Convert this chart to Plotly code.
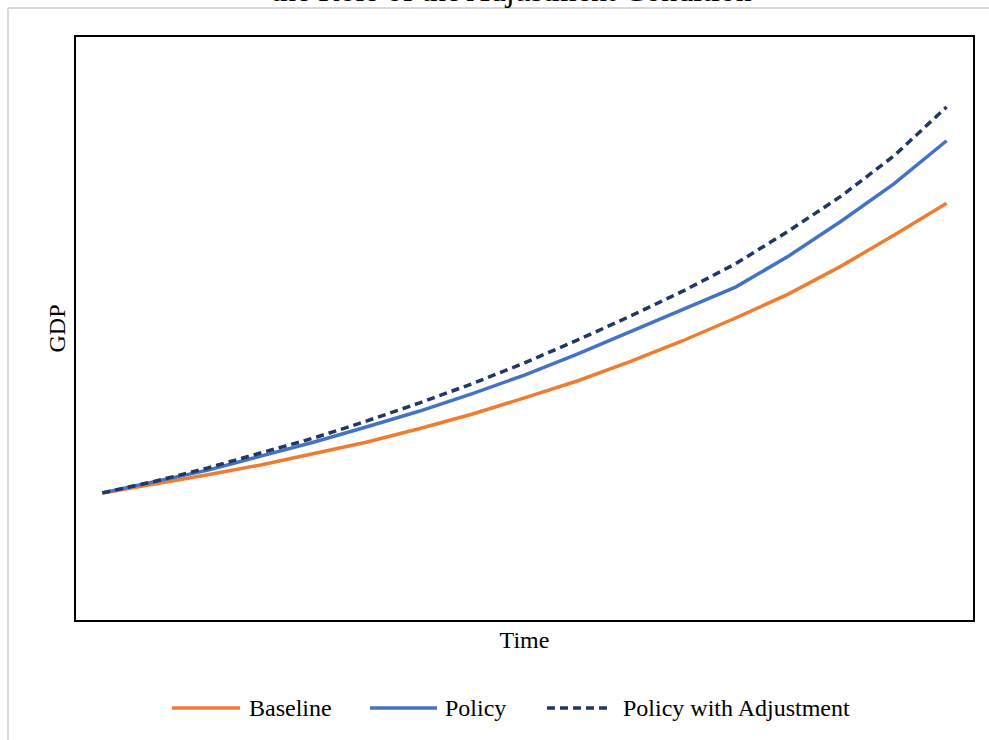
import plotly.graph_objects as go

# Time periods (category positions along the x axis)
periods = list(range(17))

# GDP paths under the three scenarios
baseline = [21.8, 23.3, 24.9, 26.6, 28.5, 30.5, 32.8, 35.3, 38.1, 41.0,
            44.3, 47.9, 51.8, 55.9, 60.7, 66.0, 71.5]
policy = [21.8, 23.7, 25.7, 28.1, 30.5, 33.1, 35.8, 38.8, 42.0, 45.6,
          49.4, 53.2, 57.1, 62.4, 68.4, 74.8, 82.2]
policy_adj = [21.8, 23.8, 26.1, 28.6, 31.2, 34.1, 37.2, 40.5, 44.1, 48.0,
              52.1, 56.4, 61.1, 66.7, 72.7, 79.6, 88.0]

series_names = ["Baseline", "Policy", "Policy with Adjustment"]
series_colors = ["#ED7D31", "#4472C4", "#1F3864"]
series_dash = ["solid", "solid", "8px,5px"]

FONT = "Liberation Serif, Times New Roman, serif"
W, H = 989, 740
L, R, T, B = 76, 16, 37, 120
PW, PH = W - L - R, H - T - B


def px_x(p):
    """Pixel column -> paper x."""
    return (p - L) / PW


def px_y(p):
    """Pixel row -> paper y."""
    return (H - B - p) / PH


fig = go.Figure()
for name, vals, col, dash in zip(series_names, [baseline, policy, policy_adj],
                                 series_colors, series_dash):
    fig.add_trace(go.Scatter(x=periods, y=vals, mode="lines", name=name,
                             line=dict(color=col, width=3.5, dash=dash),
                             showlegend=False))

fig.update_layout(
    width=W, height=H,
    margin=dict(l=L, r=R, t=T, b=B),
    paper_bgcolor="white", plot_bgcolor="white",
    font=dict(family=FONT, size=24, color="black"),
    xaxis=dict(range=[-0.5, 16.5], showticklabels=False, ticks="",
               showgrid=False, zeroline=False, showline=True, mirror=True,
               linecolor="black", linewidth=2,
               title=dict(text="Time", standoff=10, font=dict(size=24))),
    yaxis=dict(range=[0, 100], showticklabels=False, ticks="",
               showgrid=False, zeroline=False, showline=True, mirror=True,
               linecolor="black", linewidth=2,
               title=dict(text="GDP", standoff=2, font=dict(size=24))),
)

# Legend row: long line samples followed by labels
legend_y = px_y(708)
legend_samples = [(172, 240, 247), (370, 437, 443), (547, 612, 621)]
for (x0, x1, xt), name, col, dash in zip(legend_samples, series_names,
                                          series_colors, series_dash):
    fig.add_shape(type="line", xref="paper", yref="paper",
                  x0=px_x(x0), x1=px_x(x1), y0=legend_y, y1=legend_y,
                  line=dict(color=col, width=3.5, dash=dash))
    fig.add_annotation(text=name, xref="paper", yref="paper",
                       x=px_x(xt), y=legend_y, xanchor="left",
                       yanchor="middle", showarrow=False,
                       font=dict(size=24, family=FONT))

# Chart title, partly above the page edge
fig.add_annotation(text="the Role of the Adjustment Condition",
                   xref="paper", yref="paper", x=px_x(511), y=px_y(10),
                   xanchor="center", yanchor="bottom", showarrow=False,
                   font=dict(size=32, family=FONT))

# Light grey frame of the chart area
fig.add_shape(type="line", xref="paper", yref="paper",
              x0=px_x(8), x1=px_x(W + 5), y0=px_y(8), y1=px_y(8),
              line=dict(color="#D9D9D9", width=2))
fig.add_shape(type="line", xref="paper", yref="paper",
              x0=px_x(8), x1=px_x(8), y0=px_y(8), y1=px_y(H + 5),
              line=dict(color="#D9D9D9", width=2))

fig.write_html("out.html")
